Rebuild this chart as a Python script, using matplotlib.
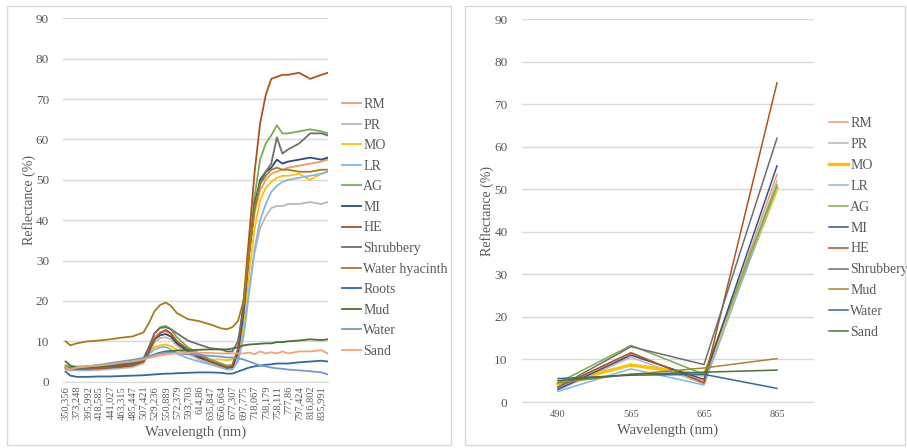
import matplotlib
matplotlib.use("Agg")
import matplotlib.pyplot as plt
from matplotlib.patches import Rectangle
import numpy as np

plt.rcParams['font.family'] = ['Liberation Serif', 'DejaVu Serif']

# ---- left chart: field spectra ----
tick_wl = [350.356, 373.248, 395.992, 418.585, 441.027, 463.315, 485.447, 507.421,
           529.236, 550.889, 572.379, 593.703, 614.86, 635.847, 656.664, 677.307,
           697.775, 718.067, 738.179, 758.111, 777.86, 797.424, 816.802, 835.991]

wl = [350.356, 360, 373.248, 395.992, 418.585, 441.027, 463.315, 485.447, 507.421, 518,
      529.236, 540, 550.889, 561, 572.379, 593.703, 614.86, 635.847, 656.664, 667,
      677.307, 687.5, 697.775, 708, 718.067, 728, 738.179, 748, 758.111, 768,
      777.86, 797.424, 816.802, 835.991, 847]

rm = [3.8, 3.5, 3.5, 3.6, 3.8, 4.0, 4.2, 4.5, 5.5, 8.0, 11.0, 12.3, 12.5, 11.8, 10.0, 7.8, 6.3, 5.0,
      4.2, 3.8, 4.0, 7.5, 17, 31, 42, 47.5, 50, 51.5, 52, 52.5, 53, 53.5, 54, 54.5, 55]
pr = [3.0, 2.8, 2.8, 2.8, 2.9, 3.1, 3.3, 3.6, 4.5, 7.0, 9.8, 10.8, 11.0, 10.5, 9.0, 7.0, 5.5, 4.5,
      3.5, 3.0, 3.0, 5.5, 12, 23, 32, 38, 41, 43, 43.5, 43.5, 44, 44, 44.5, 44, 44.5]
mo = [4.0, 3.8, 3.8, 3.9, 4.0, 4.2, 4.4, 4.7, 5.5, 7.2, 8.6, 9.0, 9.2, 8.8, 8.0, 7.0, 6.0, 5.5,
      5.5, 5.3, 5.5, 7.0, 14, 27, 38, 45, 48, 49.5, 50.5, 51, 51, 51.5, 50, 51.5, 52]
lr = [3.3, 3.0, 3.0, 3.1, 3.2, 3.4, 3.6, 4.0, 5.0, 6.8, 8.0, 8.5, 8.6, 8.0, 7.0, 5.8, 5.0, 4.3,
      3.5, 3.2, 3.2, 5.0, 11, 22, 33, 40, 44, 47, 48.5, 49.5, 50, 50.5, 51, 51.5, 52]
ag = [4.0, 3.5, 3.5, 3.5, 3.7, 3.8, 4.0, 4.3, 5.5, 8.5, 12.0, 13.5, 13.8, 13.0, 11.0, 8.5, 7.0, 5.5,
      4.5, 4.0, 4.2, 8.0, 18, 33, 46, 55, 59, 61, 63.5, 61.5, 61.5, 62, 62.5, 62, 61.5]
mi = [3.5, 3.2, 3.2, 3.3, 3.4, 3.6, 3.8, 4.1, 5.0, 7.5, 10.5, 11.5, 11.8, 11.2, 9.5, 7.5, 6.0, 5.0,
      4.0, 3.5, 3.6, 7.0, 17, 32, 44, 50, 52, 53, 55, 54, 54.5, 55, 55.5, 55, 55.5]
he = [3.5, 3.0, 3.2, 3.2, 3.3, 3.5, 3.7, 4.0, 5.0, 7.5, 10.5, 12.0, 12.8, 12.0, 10.0, 8.0, 6.5, 5.0,
      4.0, 3.5, 3.8, 8.0, 20, 36, 52, 64, 71, 75, 75.5, 76, 76, 76.5, 75, 76, 76.5]
shrub = [3.5, 3.2, 3.3, 3.4, 3.6, 3.8, 4.2, 4.6, 5.8, 8.5, 12.0, 13.3, 13.5, 13.0, 12.0, 10.2, 9.2, 8.3,
         8.0, 7.5, 7.5, 10, 18, 32, 43, 49, 52, 54, 60.5, 56.5, 57.5, 59, 61.5, 61.5, 61]
hyacinth = [10.0, 9.0, 9.5, 10.0, 10.2, 10.5, 10.9, 11.2, 12.2, 14.5, 17.5, 19.0, 19.6, 18.8, 17.0, 15.5, 15.0, 14.2,
            13.2, 13.0, 13.5, 15, 20, 32, 43, 49, 51, 52.5, 53, 52.5, 52.5, 52, 52, 52.5, 52.5]
roots = [2.5, 1.5, 1.2, 1.2, 1.3, 1.3, 1.4, 1.5, 1.6, 1.7, 1.8, 1.9, 2.0, 2.0, 2.1, 2.2, 2.3, 2.3,
         2.2, 2.0, 2.0, 2.5, 3.0, 3.5, 3.8, 4.0, 4.2, 4.3, 4.5, 4.5, 4.5, 4.8, 5.0, 5.2, 5.0]
mud = [5.0, 4.0, 3.5, 3.6, 3.8, 4.0, 4.4, 4.8, 5.5, 6.2, 6.8, 7.2, 7.5, 7.6, 7.7, 7.8, 7.9, 8.0,
       8.0, 8.0, 8.2, 8.5, 9.0, 9.2, 9.3, 9.4, 9.5, 9.5, 9.8, 9.8, 10.0, 10.2, 10.5, 10.3, 10.5]
water = [3.5, 3.0, 3.5, 3.8, 4.2, 4.6, 5.0, 5.4, 5.9, 6.3, 6.7, 7.0, 7.2, 7.2, 7.0, 6.8, 6.6, 6.4,
         6.2, 6.0, 6.0, 5.8, 5.5, 5.0, 4.5, 4.0, 3.8, 3.5, 3.3, 3.2, 3.0, 2.8, 2.6, 2.3, 1.8]
sand = [3.5, 3.0, 3.5, 3.8, 4.0, 4.3, 4.7, 5.0, 5.5, 5.9, 6.2, 6.5, 6.7, 6.9, 7.0, 7.2, 7.2, 7.1,
        7.0, 7.0, 7.0, 7.0, 7.0, 7.2, 6.8, 7.5, 7.0, 7.3, 7.0, 7.5, 7.0, 7.5, 7.5, 7.8, 7.0]

left_names = ['RM', 'PR', 'MO', 'LR', 'AG', 'MI', 'HE', 'Shrubbery', 'Water hyacinth',
              'Roots', 'Mud', 'Water', 'Sand']
left_series = [rm, pr, mo, lr, ag, mi, he, shrub, hyacinth, roots, mud, water, sand]
left_colors = ['#F09A66', '#B8B8B8', '#FFC000', '#86B6E0', '#73B04C', '#2B4A82', '#B0521E',
               '#6E6E6E', '#A57E1A', '#2F6AA0', '#4A7236', '#7596D6', '#F3A474']

# ---- right chart: Sentinel-2 bands ----
bands = ['490', '565', '665', '865']
b_rm = [3.5, 11.3, 4.8, 53.5]
b_pr = [2.8, 10.5, 4.3, 52.0]
b_mo = [4.3, 8.7, 6.3, 50.2]
b_lr = [2.5, 7.8, 4.0, 50.8]
b_ag = [4.5, 13.3, 6.5, 51.0]
b_mi = [3.0, 11.0, 5.3, 55.5]
b_he = [3.5, 11.6, 4.5, 75.0]
b_shrub = [3.5, 13.0, 8.8, 62.0]
b_mud = [4.5, 6.5, 8.0, 10.2]
b_water = [5.5, 6.3, 6.5, 3.2]
b_sand = [5.0, 6.5, 7.0, 7.5]

right_names = ['RM', 'PR', 'MO', 'LR', 'AG', 'MI', 'HE', 'Shrubbery', 'Mud', 'Water', 'Sand']
right_series = [b_rm, b_pr, b_mo, b_lr, b_ag, b_mi, b_he, b_shrub, b_mud, b_water, b_sand]
right_colors = ['#F09A66', '#B8B8B8', '#FFC000', '#86B6E0', '#73B04C', '#34509A', '#B0521E',
                '#6E6E6E', '#A8852A', '#2F6AA0', '#4A7236']

TXT = '#595959'
GRID = '#D9D9D9'

# category-style x axis: tick labels evenly spaced
sc_wl = [330.0] + tick_wl + [870.0]
sc_ix = [-(350.356 - 330.0) / 22.9] + list(range(len(tick_wl))) + [23 + (870 - 835.991) / 19.19]


def fwd(x):
    return np.interp(x, sc_wl, sc_ix)


def inv(x):
    return np.interp(x, sc_ix, sc_wl)


def style_axes(ax):
    ax.set_ylim(0, 90)
    ax.set_yticks(range(0, 91, 10))
    ax.yaxis.grid(True, color=GRID, linewidth=1.0)
    ax.set_axisbelow(True)
    for s in ['top', 'right', 'left']:
        ax.spines[s].set_visible(False)
    ax.spines['bottom'].set_color(GRID)
    ax.tick_params(axis='both', length=0, colors=TXT)
    ax.tick_params(axis='y', labelsize=9.5, pad=10)
    ax.set_ylabel('Reflectance (%)', fontsize=10, color=TXT)
    ax.set_xlabel('Wavelength (nm)', fontsize=10.5, color=TXT)


fig = plt.figure(figsize=(9.07, 4.48), dpi=100)

fig.patches.append(Rectangle((7 / 907, 3 / 448), 444 / 907, 439 / 448, transform=fig.transFigure,
                             fill=False, edgecolor=GRID, linewidth=1.0))
fig.patches.append(Rectangle((465 / 907, 3 / 448), 440 / 907, 439 / 448, transform=fig.transFigure,
                             fill=False, edgecolor=GRID, linewidth=1.0))

ax1 = fig.add_axes([63 / 907, 66.3 / 448, 265 / 907, 363.4 / 448])
ax1.set_xscale('function', functions=(fwd, inv))
for name, vals, col in zip(left_names, left_series, left_colors):
    ax1.plot(wl, vals, color=col, linewidth=1.3, label=name)
ax1.set_xlim(344.9, 847.5)
ax1.set_xticks(tick_wl)
ax1.set_xticklabels([f"{w:g}".replace('.', ',') for w in tick_wl], rotation=90, fontsize=7.5)
ax1.xaxis.set_minor_locator(matplotlib.ticker.NullLocator())
style_axes(ax1)
ax1.tick_params(axis='x', pad=3)
ax1.yaxis.set_label_coords(-0.100, 0.5)
ax1.xaxis.set_label_coords(0.5, -0.12)
ax1.legend(loc='upper left', bbox_to_anchor=(342 / 907, 1 - 98 / 448), bbox_transform=fig.transFigure,
           frameon=False, fontsize=10, labelcolor=TXT, handlelength=1.35, handletextpad=0.18,
           labelspacing=0.545, borderaxespad=0, borderpad=0)

ax2 = fig.add_axes([521.5 / 907, 46 / 448, 292 / 907, 383 / 448])
for name, vals, col in zip(right_names, right_series, right_colors):
    lw = 2.4 if name == 'MO' else 1.1
    ax2.plot(bands, vals, color=col, linewidth=lw, label=name)
ax2.set_xlim(-0.5, 3.5)
style_axes(ax2)
ax2.tick_params(axis='x', labelsize=7.5, pad=6)
ax2.yaxis.set_label_coords(-0.095, 0.5)
ax2.xaxis.set_label_coords(0.5, -0.057)
ax2.legend(loc='upper left', bbox_to_anchor=(829 / 907, 1 - 117 / 448), bbox_transform=fig.transFigure,
           frameon=False, fontsize=10, labelcolor=TXT, handlelength=1.35, handletextpad=0.18,
           labelspacing=0.57, borderaxespad=0, borderpad=0)

fig.savefig('out.png', dpi=100)
